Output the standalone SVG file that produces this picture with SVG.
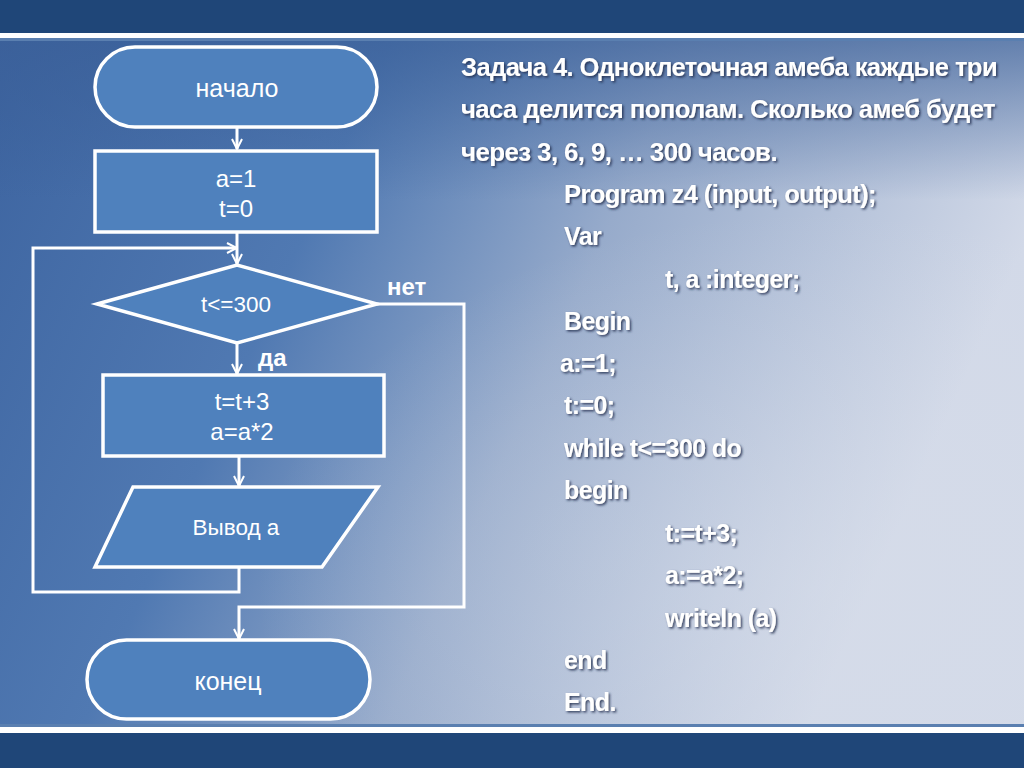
<svg xmlns="http://www.w3.org/2000/svg" width="1024" height="768" viewBox="0 0 1024 768">
<defs>
<linearGradient id="bg" x1="0" y1="0" x2="1" y2="0.3">
<stop offset="0" stop-color="#3d64a0"/>
<stop offset="0.35" stop-color="#5079b2"/>
<stop offset="0.62" stop-color="#97abcb"/>
<stop offset="1" stop-color="#d2d9e8"/>
</linearGradient>
<radialGradient id="glow" cx="0.8" cy="0.8" r="0.55">
<stop offset="0" stop-color="#d8deea" stop-opacity="0.5"/>
<stop offset="1" stop-color="#d8deea" stop-opacity="0"/>
</radialGradient>
<linearGradient id="topdark" x1="0" y1="0" x2="0" y2="1">
<stop offset="0" stop-color="#3a5f98" stop-opacity="0.7"/>
<stop offset="1" stop-color="#3a5f98" stop-opacity="0"/>
</linearGradient>
<filter id="sh" x="-5%" y="-20%" width="110%" height="140%">
<feDropShadow dx="1.5" dy="1.5" stdDeviation="1" flood-color="#1c2c4c" flood-opacity="0.85"/>
</filter>
<marker id="arr" viewBox="0 0 12 12" refX="11" refY="6" markerWidth="12" markerHeight="12" markerUnits="userSpaceOnUse" orient="auto">
<path d="M1,1 L11,6 L1,11" fill="none" stroke="#ffffff" stroke-width="2"/>
</marker>
<style>
.shape{fill:#4f81bd;stroke:#ffffff;stroke-width:3.5}
.lbl{fill:#ffffff;font-family:"Liberation Sans",Arial,sans-serif;font-size:24px;text-anchor:middle}
.yn{fill:#ffffff;font-family:"Liberation Sans",Arial,sans-serif;font-size:24px;font-weight:bold}
.conn{fill:none;stroke:#ffffff;stroke-width:3}
.txt{fill:#ffffff;font-family:"Liberation Sans",Arial,sans-serif;font-size:25px;font-weight:bold;letter-spacing:-0.6px;filter:url(#sh)}
</style>
</defs>
<rect x="0" y="0" width="1024" height="768" fill="#1f4678"/>
<rect x="0" y="40" width="1024" height="686" fill="url(#bg)"/>
<rect x="0" y="40" width="1024" height="686" fill="url(#glow)"/>
<rect x="0" y="40" width="1024" height="160" fill="url(#topdark)"/>
<rect x="0" y="33" width="1024" height="5" fill="#ffffff"/>
<rect x="0" y="38" width="1024" height="3" fill="#5a7fb0"/>
<rect x="0" y="724" width="1024" height="3" fill="#5a7fb0"/>
<rect x="0" y="727" width="1024" height="6" fill="#ffffff"/>

<g id="connectors">
<line class="conn" x1="237" y1="127" x2="237" y2="149" marker-end="url(#arr)"/>
<line class="conn" x1="237" y1="232" x2="237" y2="264" marker-end="url(#arr)"/>
<line class="conn" x1="237" y1="343" x2="237" y2="374" marker-end="url(#arr)"/>
<line class="conn" x1="239" y1="456" x2="239" y2="486" marker-end="url(#arr)"/>
<polyline class="conn" points="239,567 239,592 33,592 33,248 237,248" marker-end="url(#arr)"/>
<polyline class="conn" points="377,304 464,304 464,607 239,607 239,639" marker-end="url(#arr)"/>
<text class="yn" x="387" y="295">нет</text>
<text class="yn" x="258" y="366">да</text>
</g>

<g id="start">
<rect class="shape" x="95" y="47" width="282" height="80" rx="40" ry="40"/>
<text class="lbl" x="237" y="97" style="font-size:25px">начало</text>
</g>
<g id="init">
<rect class="shape" x="95" y="151" width="282" height="81"/>
<text class="lbl" x="236" y="187">a=1</text>
<text class="lbl" x="236" y="217">t=0</text>
</g>
<g id="cond">
<polygon class="shape" points="97,304 237,265 377,304 237,343"/>
<text class="lbl" x="236" y="312" style="font-size:22.5px">t&lt;=300</text>
</g>
<g id="body">
<rect class="shape" x="103" y="375" width="281" height="81"/>
<text class="lbl" x="242" y="410">t=t+3</text>
<text class="lbl" x="242" y="440">a=a*2</text>
</g>
<g id="output">
<polygon class="shape" points="133,487 378,487 322,567 95,567"/>
<text class="lbl" x="236" y="535" style="font-size:22.5px">Вывод а</text>
</g>
<g id="end">
<rect class="shape" x="87" y="640" width="283" height="79" rx="39.5" ry="39.5"/>
<text class="lbl" x="228" y="690" style="font-size:25px">конец</text>
</g>

<g id="text">
<text class="txt" x="461" y="76" textLength="536" lengthAdjust="spacingAndGlyphs">Задача 4. Одноклеточная амеба каждые три</text>
<text class="txt" x="461" y="118" textLength="534" lengthAdjust="spacingAndGlyphs">часа  делится  пополам. Сколько амеб будет</text>
<text class="txt" x="461" y="161" textLength="316" lengthAdjust="spacingAndGlyphs">через 3, 6, 9, … 300 часов.</text>
<text class="txt" x="564" y="203" textLength="312" lengthAdjust="spacingAndGlyphs">Program  z4 (input, output);</text>
<text class="txt" x="564" y="245">Var</text>
<text class="txt" x="665" y="288">t, a :integer;</text>
<text class="txt" x="564" y="330">Begin</text>
<text class="txt" x="560" y="372">a:=1;</text>
<text class="txt" x="564" y="414">t:=0;</text>
<text class="txt" x="564" y="457">while t&lt;=300 do</text>
<text class="txt" x="564" y="499">begin</text>
<text class="txt" x="665" y="542">t:=t+3;</text>
<text class="txt" x="665" y="584">a:=a*2;</text>
<text class="txt" x="665" y="627">writeln (a)</text>
<text class="txt" x="564" y="669">end</text>
<text class="txt" x="564" y="711">End.</text>
</g>
</svg>
